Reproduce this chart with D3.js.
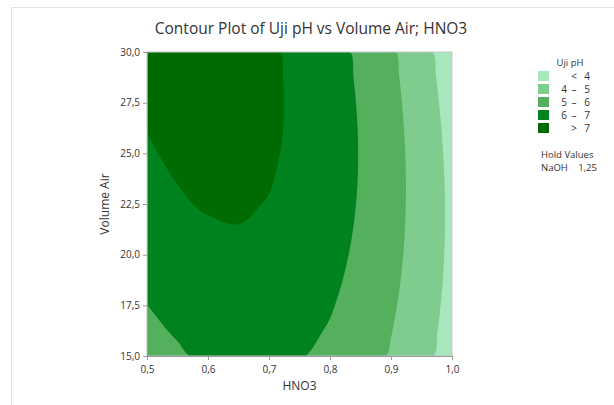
<!DOCTYPE html>
<html>
<head>
<meta charset="utf-8">
<script src="https://cdn.jsdelivr.net/npm/d3@7"></script>
<style>
  body { margin: 0; background: #fff; }
  text { font-family: "Open Sans", "Noto Sans", sans-serif; }
</style>
</head>
<body>
<svg id="chart" width="614" height="405"></svg>
<script>
// grid of Uji pH
// columns: HNO3 0,50 .. 1,00 step 0,05 ; rows: Volume Air 15,0 .. 30,0 step 1,25
var hno3 = [0.50, 0.55, 0.60, 0.65, 0.70, 0.75, 0.80, 0.85, 0.90, 0.95, 1.00];
var volume = [15.0, 16.25, 17.5, 18.75, 20.0, 21.25, 22.5, 23.75, 25.0, 26.25, 27.5, 28.75, 30.0];
var ph = [
  [5.544, 5.853, 6.210, 6.208, 6.190, 6.051, 5.792, 5.414, 4.915, 4.297, 3.558],
  [5.778, 6.105, 6.312, 6.398, 6.365, 6.211, 5.938, 5.545, 5.031, 4.398, 3.645],
  [5.995, 6.307, 6.499, 6.570, 6.522, 6.354, 6.066, 5.658, 5.130, 4.481, 3.713],
  [6.194, 6.491, 6.668, 6.725, 6.662, 6.479, 6.176, 5.753, 5.210, 4.547, 3.764],
  [6.374, 6.657, 6.819, 6.861, 6.783, 6.586, 6.268, 5.830, 5.273, 4.595, 3.797],
  [6.538, 6.805, 6.870, 6.980, 6.888, 6.675, 6.343, 5.890, 5.317, 4.625, 3.812],
  [6.683, 6.900, 7.100, 7.081, 6.974, 6.747, 6.399, 5.932, 5.345, 4.637, 3.810],
  [6.811, 7.030, 7.166, 7.164, 7.042, 6.800, 6.438, 5.956, 5.354, 4.632, 3.790],
  [6.920, 7.144, 7.247, 7.230, 7.093, 6.836, 6.459, 5.962, 5.346, 4.609, 3.752],
  [7.013, 7.221, 7.309, 7.278, 7.126, 6.854, 6.463, 5.951, 5.319, 4.568, 3.696],
  [7.087, 7.280, 7.354, 7.308, 7.141, 6.855, 6.448, 5.922, 5.275, 4.509, 3.622],
  [7.143, 7.322, 7.381, 7.320, 7.138, 6.837, 6.416, 5.875, 5.214, 4.432, 3.531],
  [7.182, 7.346, 7.390, 7.314, 7.118, 6.802, 6.366, 5.810, 5.134, 4.338, 3.422]
];
var levels = [4, 5, 6, 7];
var bandLabels = [["<", "4"], ["4", "5"], ["5", "6"], ["6", "7"], [">", "7"]];
var bandColors = ["#a8e6bd", "#80cb8e", "#55b05d", "#00821f", "#006b00"];
var xTicks = [0.5, 0.6, 0.7, 0.8, 0.9, 1.0];
var yTicks = [15, 17.5, 20, 22.5, 25, 27.5, 30];
var holdName = "NaOH", holdValue = "1,25";

var svg = d3.select("#chart");
var pLeft = 147, pRight = 452, pTop = 52, pBottom = 356;
var comma = function(f) { return function(d) { return d3.format(f)(d).replace(".", ","); }; };

// outer frame (only top/left visible in the photo)
svg.append("path").attr("d", "M11.5,405V7.5H614")
  .attr("fill", "none").attr("stroke", "#e3e3e3");

svg.append("text").attr("x", 311).attr("y", 34)
  .attr("text-anchor", "middle").attr("font-size", 15.5).attr("fill", "#333")
  .text("Contour Plot of Uji pH vs Volume Air; HNO3");

var x = d3.scaleLinear().domain([0.5, 1.0]).range([pLeft, pRight]);
var y = d3.scaleLinear().domain([15, 30]).range([pBottom, pTop]);

svg.append("clipPath").attr("id", "plotclip").append("rect")
  .attr("x", pLeft).attr("y", pTop).attr("width", pRight - pLeft).attr("height", pBottom - pTop);

var nx = hno3.length, ny = volume.length;
var dx = hno3[1] - hno3[0], dy = volume[1] - volume[0];
var flat = [].concat.apply([], ph);

var contours = d3.contours().size([nx, ny]).thresholds(levels)(flat);

// grid coords -> pixels (border pulled onto the plot edge), smooth closed curve through ring
var gx = function(c) { return x(hno3[0] + (Math.max(0.5, Math.min(nx - 0.5, c)) - 0.5) * dx); };
var gy = function(c) { return y(volume[0] + (Math.max(0.5, Math.min(ny - 0.5, c)) - 0.5) * dy); };
var ringLine = d3.line().curve(d3.curveCatmullRomClosed.alpha(0.5));
function bandPath(c) {
  var d = "";
  c.coordinates.forEach(function(poly) {
    poly.forEach(function(ring) {
      var pts = [];
      ring.slice(0, -1).forEach(function(p) {
        var q = [gx(p[0]), gy(p[1])], last = pts[pts.length - 1];
        if (!last || Math.abs(last[0] - q[0]) > 0.3 || Math.abs(last[1] - q[1]) > 0.3) pts.push(q);
      });
      if (pts.length > 2) d += ringLine(pts);
    });
  });
  return d;
}

var g = svg.append("g").attr("clip-path", "url(#plotclip)");
g.append("rect").attr("x", pLeft).attr("y", pTop)
  .attr("width", pRight - pLeft).attr("height", pBottom - pTop)
  .attr("fill", bandColors[0]);
g.selectAll("path.band").data(contours).enter().append("path")
  .attr("class", "band")
  .attr("d", bandPath)
  .attr("fill", function(d, i) { return bandColors[i + 1]; });

// plot frame
svg.append("rect").attr("x", pLeft).attr("y", pTop)
  .attr("width", pRight - pLeft).attr("height", pBottom - pTop)
  .attr("fill", "none").attr("stroke", "#c8c8c8");

var xAxis = svg.append("g").attr("transform", "translate(0," + pBottom + ")")
  .call(d3.axisBottom(x).tickValues(xTicks).tickFormat(comma(".1f")).tickSize(4).tickSizeOuter(0));
var yAxis = svg.append("g").attr("transform", "translate(" + pLeft + ",0)")
  .call(d3.axisLeft(y).tickValues(yTicks).tickFormat(comma(".1f")).tickSize(4).tickSizeOuter(0));
[xAxis, yAxis].forEach(function(a) {
  a.select(".domain").attr("stroke", "#9a9a9a");
  a.selectAll(".tick line").attr("stroke", "#9a9a9a");
  a.selectAll(".tick text").attr("fill", "#333").attr("font-size", 10)
    .attr("font-family", "'Open Sans', sans-serif");
});
xAxis.selectAll(".tick text").attr("dy", "0.95em");

svg.append("text").attr("x", (pLeft + pRight) / 2).attr("y", 390)
  .attr("text-anchor", "middle").attr("font-size", 12).attr("fill", "#333").text("HNO3");
svg.append("text").attr("transform", "translate(109," + (pTop + pBottom) / 2 + ") rotate(-90)")
  .attr("text-anchor", "middle").attr("font-size", 12).attr("fill", "#333").text("Volume Air");

// legend
var lg = svg.append("g").attr("font-size", 10).attr("fill", "#333");
lg.append("text").attr("x", 570).attr("y", 66).attr("text-anchor", "middle").attr("font-size", 9.5).text("Uji pH");
var items = lg.selectAll("g.item").data(bandLabels).enter().append("g")
  .attr("transform", function(d, i) { return "translate(538," + (71 + i * 13) + ")"; });
items.append("rect").attr("width", 11).attr("height", 10)
  .attr("fill", function(d, i) { return bandColors[i]; });
items.append("text").attr("x", 26).attr("y", 9).attr("text-anchor", "middle")
  .text(function(d, i) { return (i === 0 || i === 4) ? "" : d[0]; });
items.append("text").attr("x", 36).attr("y", 9).attr("text-anchor", "middle")
  .text(function(d, i) { return (i === 0 || i === 4) ? d[0] : "\u2013"; });
items.append("text").attr("x", 49).attr("y", 9).attr("text-anchor", "middle")
  .text(function(d) { return d[1]; });

lg.append("text").attr("x", 541).attr("y", 158).attr("font-size", 9.5).text("Hold Values");
lg.append("text").attr("x", 541).attr("y", 171).attr("font-size", 9.5).text(holdName);
lg.append("text").attr("x", 597).attr("y", 171).attr("text-anchor", "end").attr("font-size", 9.5).text(holdValue);
</script>
</body>
</html>
